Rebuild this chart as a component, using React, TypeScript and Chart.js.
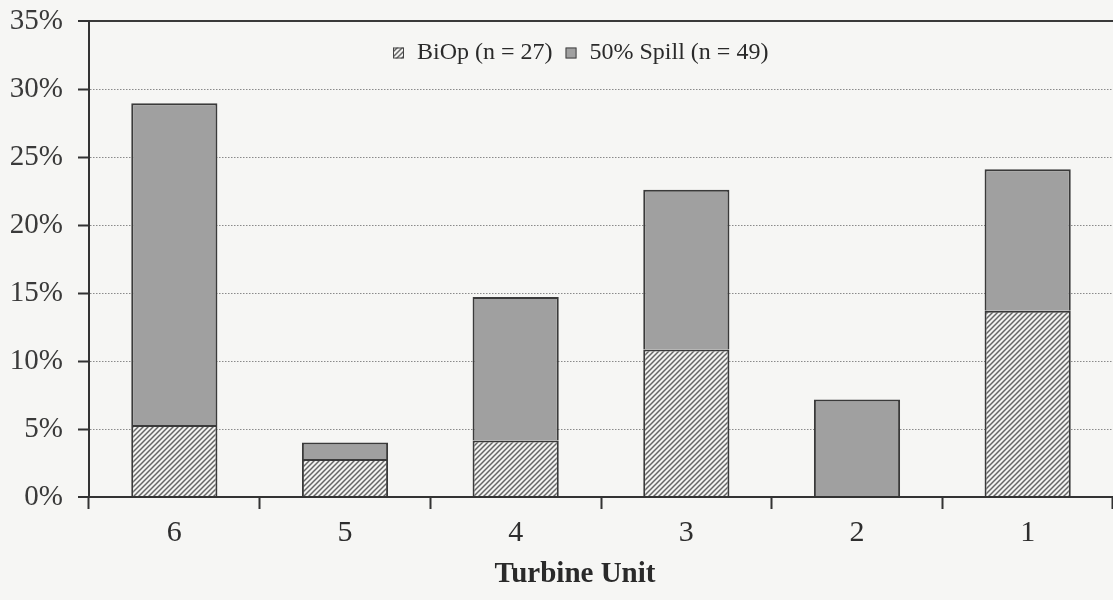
import React, { useEffect, useRef } from 'react';
import { Chart, registerables } from 'chart.js';

Chart.register(...registerables);

const turbineUnits = ['6', '5', '4', '3', '2', '1'];
const biopValues = [5.3, 2.8, 4.15, 10.85, 0, 13.7];
const spillValues = [23.65, 1.2, 10.55, 11.75, 7.17, 10.4];
const biopLabel = 'BiOp (n = 27)';
const spillLabel = '50% Spill (n = 49)';
const xAxisTitle = 'Turbine Unit';
const yMax = 35;
const yStep = 5;

const SERIF = '"Liberation Serif", "Times New Roman", Times, serif';

function makeHatch(target: CanvasRenderingContext2D) {
  const s = 5;
  const c = document.createElement('canvas');
  c.width = s;
  c.height = s;
  const g = c.getContext('2d')!;
  g.fillStyle = '#f3f3f1';
  g.fillRect(0, 0, s, s);
  g.strokeStyle = '#666';
  g.lineWidth = 1.5;
  g.beginPath();
  g.moveTo(0, s);
  g.lineTo(s, 0);
  g.moveTo(-1, 1);
  g.lineTo(1, -1);
  g.moveTo(s - 1, s + 1);
  g.lineTo(s + 1, s - 1);
  g.stroke();
  return target.createPattern(c, 'repeat');
}

const overlayPlugin = {
  id: 'overlay',
  afterDraw(chart: any) {
    const ctx: CanvasRenderingContext2D = chart.ctx;
    ctx.save();
    ctx.font = `24px ${SERIF}`;
    ctx.textBaseline = 'middle';
    ctx.textAlign = 'left';
    const cy = 53;
    let x = 393;
    const box = 11;
    chart.data.datasets.forEach((ds: any) => {
      ctx.fillStyle = ds.backgroundColor;
      ctx.fillRect(x, cy - box / 2, box, box);
      ctx.strokeStyle = '#444';
      ctx.lineWidth = 1;
      ctx.strokeRect(x + 0.5, cy - box / 2 + 0.5, box - 1, box - 1);
      x += box + 13;
      ctx.fillStyle = '#2a2a2a';
      ctx.fillText(ds.label, x, cy);
      x += ctx.measureText(ds.label).width + 13;
    });
    ctx.font = `bold 29px ${SERIF}`;
    ctx.textAlign = 'center';
    ctx.fillStyle = '#2a2a2a';
    ctx.fillText(xAxisTitle, 575, 575);
    ctx.restore();
  },
};

export default function App() {
  const canvasRef = useRef<HTMLCanvasElement | null>(null);

  useEffect(() => {
    const canvas = canvasRef.current!;
    const ctx = canvas.getContext('2d')!;
    const hatch = makeHatch(ctx);
    const chart = new Chart(ctx, {
      type: 'bar',
      data: {
        labels: turbineUnits,
        datasets: [
          {
            label: biopLabel,
            data: biopValues,
            backgroundColor: hatch as any,
            borderColor: '#3a3a3a',
            borderWidth: 2,
            barPercentage: 0.505,
            categoryPercentage: 1,
          },
          {
            label: spillLabel,
            data: spillValues,
            backgroundColor: '#a0a0a0',
            borderColor: '#3a3a3a',
            borderWidth: 2,
            barPercentage: 0.505,
            categoryPercentage: 1,
          },
        ],
      },
      options: {
        animation: false,
        responsive: false,
        maintainAspectRatio: false,
        devicePixelRatio: 1,
        layout: { padding: { top: 21, left: 0, right: 0, bottom: 0 } },
        plugins: {
          legend: { display: false },
          tooltip: { enabled: false },
        },
        scales: {
          x: {
            stacked: true,
            afterFit: (s: any) => {
              s.height = 103;
              s.paddingLeft = 0;
              s.paddingRight = 0;
            },
            grid: {
              drawOnChartArea: false,
              drawTicks: true,
              tickLength: 12,
              tickWidth: 2,
              tickColor: '#333',
              offset: true,
            },
            border: { color: '#333', width: 2 },
            ticks: {
              padding: 6,
              color: '#2e2e2e',
              font: { family: SERIF, size: 30 },
            },
          },
          y: {
            stacked: true,
            min: 0,
            max: yMax,
            afterFit: (s: any) => {
              s.width = 89;
              s.paddingTop = 0;
              s.paddingBottom = 0;
            },
            grid: {
              color: (c: any) =>
                c.tick && (c.tick.value === yMax || c.tick.value === 0) ? '#3a3a3a' : '#8a8a8a',
              lineWidth: (c: any) =>
                c.tick && (c.tick.value === yMax || c.tick.value === 0) ? 2 : 1,
              tickColor: '#333',
              tickLength: 11,
              tickWidth: 2,
            },
            border: {
              color: '#333',
              width: 2,
              dash: (c: any) =>
                c.tick && (c.tick.value === yMax || c.tick.value === 0) ? [] : [1.5, 1.5],
            },
            ticks: {
              stepSize: yStep,
              padding: 15,
              color: '#3a3a3a',
              font: { family: SERIF, size: 29 },
              callback: (v: any) => `${v}%`,
            },
          },
        },
      },
      plugins: [overlayPlugin],
    });
    return () => chart.destroy();
  }, []);

  return (
    <div
      style={{
        position: 'absolute',
        left: 0,
        top: 0,
        width: 1113,
        height: 600,
        background: '#f6f6f4',
        overflow: 'hidden',
      }}
    >
      <canvas ref={canvasRef} width={1113} height={600} style={{ display: 'block' }} />
    </div>
  );
}
